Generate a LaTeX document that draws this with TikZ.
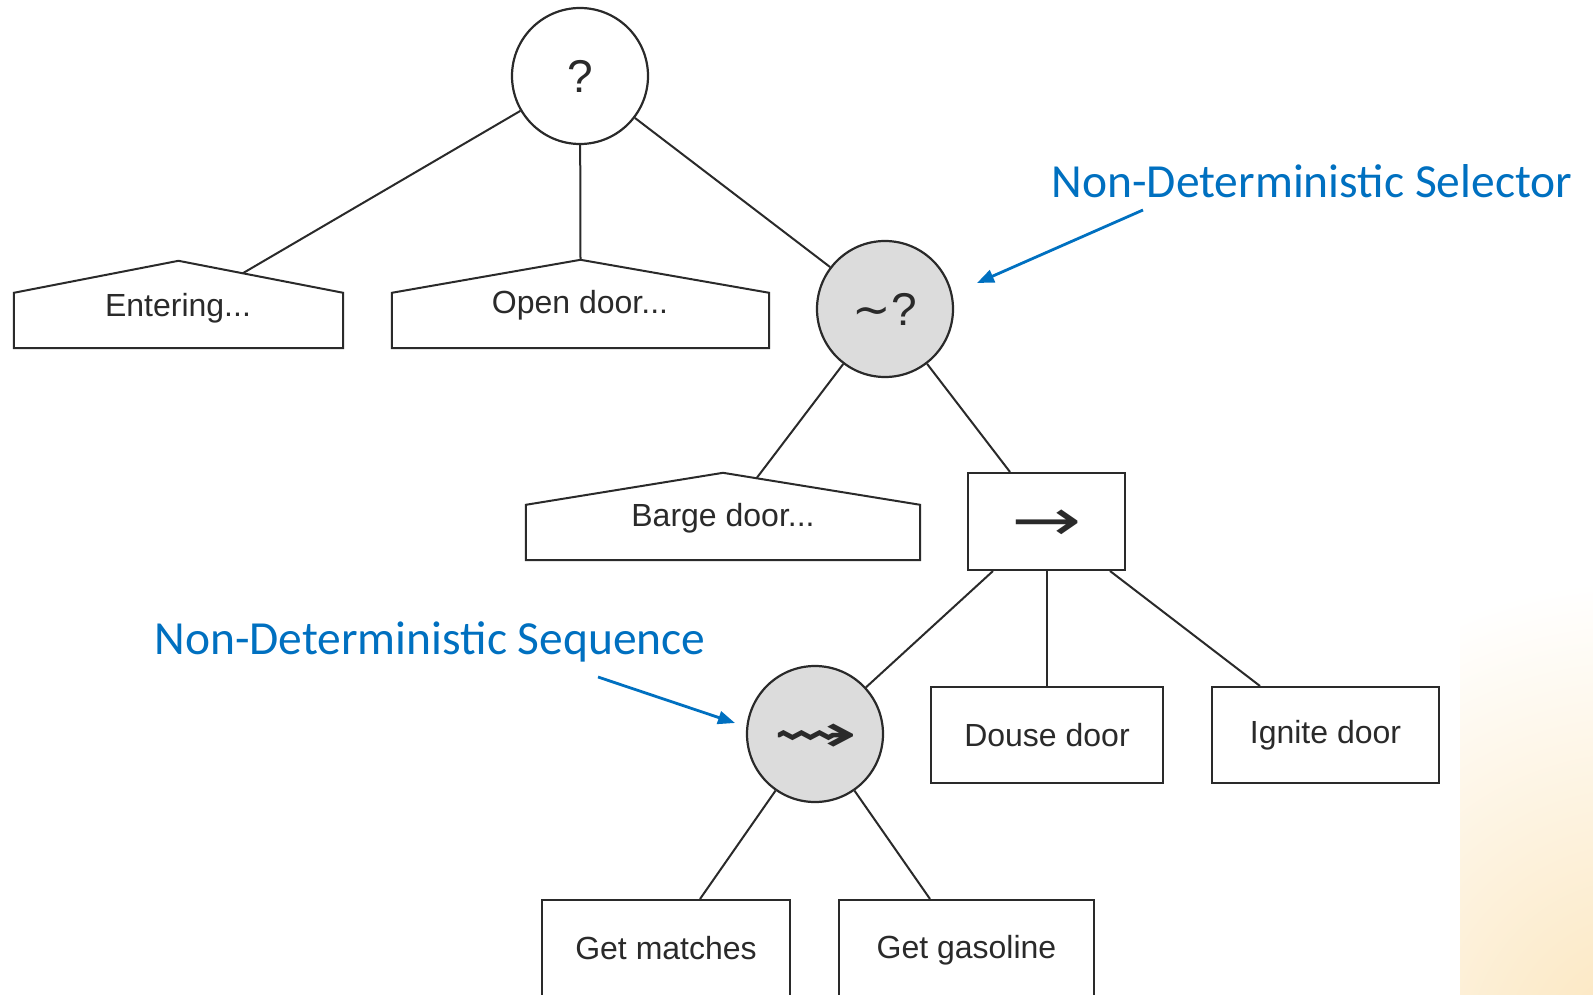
\documentclass[tikz,border=0pt]{standalone}
\usepackage{fontspec}
\setmainfont{Liberation Sans}
\newfontfamily\calib{Carlito}
\newfontfamily\dejavu{DejaVu Sans}
\usetikzlibrary{arrows.meta,calc}

\definecolor{ink}{HTML}{2A2A2A}
\definecolor{nodegray}{HTML}{DCDCDC}
\definecolor{noteblue}{HTML}{0070C0}
\definecolor{glow}{HTML}{FBE5BC}

\begin{document}
\begin{tikzpicture}[x=1pt,y=-1pt,
  edge/.style={draw=ink,line width=2pt,line join=miter},
  ctrl/.style={circle,draw=ink,line width=2.2pt,minimum size=136pt,inner sep=0pt,
               font=\fontsize{46}{50}\selectfont,text=ink},
  ndctrl/.style={ctrl,fill=nodegray},
  leaf/.style={rectangle,draw=ink,line width=2pt,inner sep=0pt,
               font=\fontsize{32}{38}\selectfont,text=ink},
  hbody/.style={rectangle,inner sep=0pt,minimum height=55pt},
  htext/.style={font=\fontsize{32}{38}\selectfont,text=ink,inner sep=0pt},
  note/.style={font=\calib\fontsize{47.5}{56}\selectfont,text=noteblue,inner sep=0pt},
  notearrow/.style={draw=noteblue,line width=2.8pt,-{Triangle[length=17pt,width=13pt]}}]

\useasboundingbox (0,0) rectangle (1593,995);
\clip (0,0) rectangle (1593,995);

% soft backdrop in the lower right corner
\begin{scope}
  \clip (1460,520) rectangle (1593,995);
  \shade[inner color=glow,outer color=white] (1640,1050) circle (470);
\end{scope}

% control nodes
\node[ctrl]   (root) at (580,76)  {?};
\node[ndctrl] (nsel) at (885,309) {{\dejavu ∼}?};
\node[leaf,minimum width=157pt,minimum height=97pt] (seq) at (1046.5,521.5)
  {\fontsize{58}{60}\selectfont\raisebox{-4pt}[\height][\depth]{\scalebox{1.45}[1]{\dejavu →}}};
\node[ndctrl] (nseq) at (815,734)
  {\fontsize{54}{56}\selectfont\raisebox{-4pt}[\height][\depth]{\scalebox{1.9}[1]{\dejavu ⇝}}};

% condition subtrees drawn as houses (walls plus a pitched roof)
\node[hbody,minimum width=329pt] (ent) at (178.5,320.5) {};
\draw[edge] (ent.south west) -- (ent.north west)
  -- ($(ent.north)+(0,-32)$) coordinate (entpk)
  -- (ent.north east) -- (ent.south east) -- cycle;
\node[htext] (entT) at (178,308) {Entering...};

\node[hbody,minimum width=377pt] (opn) at (580.5,320.5) {};
\draw[edge] (opn.south west) -- (opn.north west)
  -- ($(opn.north)+(0,-33)$) coordinate (opnpk)
  -- (opn.north east) -- (opn.south east) -- cycle;
\node[htext] (opnT) at (580,305) {Open door...};

\node[hbody,minimum width=394pt] (brg) at (723,532.5) {};
\draw[edge] (brg.south west) -- (brg.north west)
  -- ($(brg.north)+(0,-32)$) coordinate (brgpk)
  -- (brg.north east) -- (brg.south east) -- cycle;
\node[htext] (brgT) at (723,518) {Barge door...};

% action leaves
\node[leaf,minimum width=232pt,minimum height=96pt] (douse) at (1047,735) {Douse door};
\node[leaf,minimum width=227pt,minimum height=96pt] (ignite) at (1325.5,735) {Ignite door};
\node[leaf,minimum width=248pt,minimum height=100pt] (match) at (666,950)
  {\raisebox{4pt}{Get matches}};
\node[leaf,minimum width=255pt,minimum height=100pt] (gas) at (966.5,950)
  {\raisebox{4pt}{Get gasoline}};

% tree edges
\coordinate (entA) at ($(entpk)!0.39!(ent.north east)$);
\coordinate (brgA) at ($(brgpk)!0.17!(brg.north east)$);
\draw[edge] (root) -- (entA);
\draw[edge] (root) -- (opnpk);
\draw[edge] (root) -- (nsel);
\draw[edge] (nsel) -- (brgA);
\draw[edge] (nsel) -- ($(seq.north west)+(43,0)$);
\draw[edge] ($(seq.south west)+(26,0)$) -- (nseq);
\draw[edge] (seq.south -| douse.north) -- (douse.north);
\draw[edge] ($(seq.south west)+(143,0)$) -- ($(ignite.north west)+(49,0)$);
\draw[edge] (nseq) -- ($(match.north west)+(159,0)$);
\draw[edge] (nseq) -- ($(gas.north west)+(92,0)$);

% annotations
\node[note] (selNote) at (1312,181) {Non-Deterministic Selector};
\coordinate (selTail) at (1143,210);
\draw[notearrow] (selTail) -- (977,283);
\node[note] (seqNote) at (430,642) {Non-Deterministic Sequence};
\coordinate (seqTail) at (598,677);
\draw[notearrow] (seqTail) -- (735,723);
\end{tikzpicture}
\end{document}
